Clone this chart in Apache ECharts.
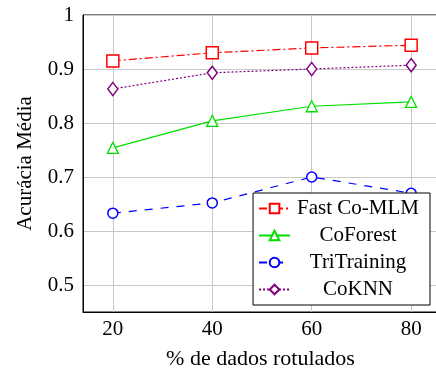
<!DOCTYPE html>
<html>
<head>
<meta charset="utf-8">
<script src="https://cdn.jsdelivr.net/npm/echarts@6/dist/echarts.min.js"></script>
<style>
  html, body { margin: 0; padding: 0; background: #fff; }
  #chart { width: 436px; height: 371px; }
</style>
</head>
<body>
<div id="chart"></div>
<script>
// dados
const xPercent = [20, 40, 60, 80]
const fastCoMLM = [0.915, 0.930, 0.939, 0.944]
const coForest = [0.754, 0.804, 0.831, 0.839]
const triTraining = [0.633, 0.652, 0.700, 0.670]
const coKNN = [0.863, 0.893, 0.900, 0.907]
const yTicks = [0.5, 0.6, 0.7, 0.8, 0.9, 1]

const fontFam = '"Liberation Serif", "DejaVu Serif", serif'

function pairs (vals) {
  return xPercent.map((x, i) => [x, vals[i]])
}

const chart = echarts.init(document.getElementById('chart'))

const option = {
  animation: false,
  backgroundColor: '#fff',
  grid: {
    left: 83,
    top: 15,
    right: -2,
    bottom: 59,
    outerBoundsMode: 'none',
    containLabel: false,
    show: true,
    borderColor: '#000',
    borderWidth: 1
  },
  xAxis: {
    type: 'value',
    min: 14,
    max: 85.4,
    name: '% de dados rotulados',
    nameLocation: 'middle',
    nameGap: 36,
    nameTextStyle: { fontFamily: fontFam, fontSize: 22, color: '#000' },
    axisLine: { show: true, lineStyle: { color: '#000' } },
    axisTick: { show: false, customValues: xPercent },
    axisLabel: {
      customValues: xPercent,
      fontFamily: fontFam, fontSize: 21, color: '#000', margin: 7
    },
    splitLine: { show: true, lineStyle: { color: '#c8c8c8' } }
  },
  yAxis: {
    type: 'value',
    min: 0.45,
    max: 1,
    name: 'Acurácia Média',
    nameLocation: 'middle',
    nameGap: 47,
    nameTextStyle: { fontFamily: fontFam, fontSize: 21, color: '#000' },
    axisLine: { show: true, lineStyle: { color: '#000' } },
    axisTick: { show: false, customValues: yTicks },
    axisLabel: {
      customValues: yTicks,
      fontFamily: fontFam, fontSize: 21, color: '#000', margin: 9,
      formatter: v => (v === 1 ? '1' : v.toFixed(1))
    },
    splitLine: { show: true, lineStyle: { color: '#c8c8c8' } }
  },
  legend: {
    right: 6,
    top: 193,
    orient: 'vertical',
    itemGap: 6,
    itemWidth: 31,
    itemHeight: 12,
    padding: [5, 11, 5, 5],
    backgroundColor: '#fff',
    borderColor: '#000',
    borderWidth: 1,
    borderRadius: 0,
    formatter: name => '{t|' + name + '}',
    textStyle: {
      rich: {
        t: { fontFamily: fontFam, fontSize: 21, color: '#000', width: 126, align: 'center', height: 21 }
      }
    },
    data: ['Fast Co-MLM', 'CoForest', 'TriTraining', 'CoKNN']
  },
  series: [
    {
      name: 'Fast Co-MLM',
      type: 'line',
      data: pairs(fastCoMLM),
      symbol: 'rect',
      symbolSize: 12,
      itemStyle: { color: '#fff', borderColor: '#ff0000', borderWidth: 1.5 },
      lineStyle: { color: '#ff0000', width: 1.2, type: [8, 3, 2, 3] },
      z: 4
    },
    {
      name: 'CoForest',
      type: 'line',
      data: pairs(coForest),
      symbol: 'triangle',
      symbolSize: 11,
      itemStyle: { color: '#fff', borderColor: '#00e000', borderWidth: 1.3 },
      lineStyle: { color: '#00e000', width: 1.2, type: 'solid' },
      z: 3
    },
    {
      name: 'TriTraining',
      type: 'line',
      data: pairs(triTraining),
      symbol: 'circle',
      symbolSize: 10,
      itemStyle: { color: '#fff', borderColor: '#0000ff', borderWidth: 1.5 },
      lineStyle: { color: '#0000ff', width: 1.2, type: [8, 8] },
      z: 3
    },
    {
      name: 'CoKNN',
      type: 'line',
      data: pairs(coKNN),
      symbol: 'diamond',
      symbolSize: [10, 13],
      itemStyle: { color: '#fff', borderColor: '#800080', borderWidth: 1.5 },
      lineStyle: { color: '#800080', width: 1.2, type: [2, 2] },
      z: 3
    }
  ]
}

chart.setOption(option)
</script>
</body>
</html>
